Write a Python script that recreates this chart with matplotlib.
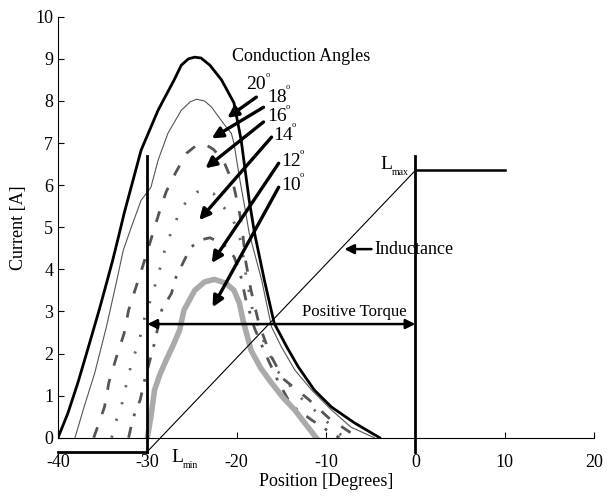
import matplotlib
matplotlib.use("Agg")
import matplotlib.pyplot as plt

plt.rcParams["font.family"] = ["Liberation Serif", "DejaVu Serif"]
plt.rcParams["axes.unicode_minus"] = False

# current curves for each conduction angle (position in degrees, current in A)
x20 = [-40, -38.9, -37.8, -36.7, -35.4, -34.6, -33.9, -33.2, -32.6, -30.7, -28.8, -27.0, -26.2, -25.4,
       -24.7, -24.0, -23.0, -21.7, -20.6, -20.3, -19.5, -19.1, -18.6, -18.0, -16.9, -15.8,
       -14.4, -13.1, -11.3, -9.4, -6.8, -4.0]
y20 = [0, 0.58, 1.29, 2.08, 3.03, 3.65, 4.2, 4.8, 5.33, 6.83, 7.78, 8.5, 8.85, 9.0,
       9.04, 9.02, 8.85, 8.5, 8.07, 7.95, 7.07, 6.43, 5.64, 4.86, 3.74, 2.72,
       2.16, 1.68, 1.13, 0.73, 0.35, 0]

x18 = [-38.1, -37.1, -35.9, -34.6, -33.5, -32.7, -31.8, -30.7, -29.6, -28.8, -27.7, -26.2,
       -25.2, -24.5, -23.6, -22.8, -21.5, -20.6, -20.3, -19.7, -19.1, -18.6, -17.2, -16.1,
       -15.0, -13.5, -11.6, -9.4, -7.2, -4.6]
y18 = [0, 0.72, 1.53, 2.62, 3.66, 4.45, 5.0, 5.64, 5.95, 6.59, 7.23, 7.78,
       7.98, 8.04, 8.0, 7.85, 7.47, 7.23, 6.99, 6.19, 5.48, 4.86, 3.74, 2.63,
       2.16, 1.61, 1.13, 0.66, 0.25, 0]

x16 = [-36.0, -35.7, -34.8, -34.3, -33.5, -32.6, -32.1, -30.3, -28.7, -27.9, -26.8, -25.6,
       -24.6, -23.7, -22.6, -21.5, -20.4, -19.8, -19.4, -19.0, -18.4, -17.5, -16.3, -14.8,
       -11.9, -9.7, -7.4, -6.5]
y16 = [0, 0.18, 0.73, 1.32, 1.89, 2.48, 3.03, 4.22, 5.33, 5.84, 6.31, 6.76,
       6.93, 6.99, 6.85, 6.59, 6.04, 5.48, 5.0, 4.2, 3.5, 2.7, 2.0, 1.4,
       0.9, 0.47, 0.14, 0]

x14 = [-34.0, -33.5, -32.9, -32.6, -32.1, -31.8, -31.2, -30.7, -30.3, -29.8, -28.8, -28.0,
       -27.3, -26.3, -25.5, -24.4, -23.5, -22.6, -21.7, -20.5, -19.8, -19.4, -19.0, -18.2,
       -17.0, -15.5, -13.1, -10.5, -8.0]
y14 = [0, 0.40, 0.73, 1.08, 1.44, 1.77, 2.12, 2.48, 2.86, 3.17, 3.85, 4.5,
       4.9, 5.4, 5.65, 5.84, 5.88, 5.8, 5.55, 5.2, 4.9, 4.5, 3.9, 3.0,
       2.3, 1.6, 1.0, 0.5, 0]

x12 = [-32.1, -31.6, -30.8, -30.3, -29.2, -28.4, -27.3, -26.8, -25.9, -25.1, -24.0, -23.0,
       -21.5, -20.3, -19.6, -19.0, -18.0, -16.8, -15.5, -13.9, -11.6, -9.4, -8.5]
y12 = [0, 0.47, 0.9, 1.37, 2.25, 3.03, 3.43, 3.81, 4.2, 4.53, 4.7, 4.75,
       4.6, 4.3, 3.9, 3.3, 2.6, 2.0, 1.4, 0.77, 0.42, 0.11, 0]

x10 = [-30.0, -29.6, -29.2, -28.6, -27.9, -27.0, -26.4, -25.9, -24.7, -23.6, -22.5, -21.2,
       -20.3, -19.7, -19.3, -18.4, -17.3, -16.1, -14.8, -13.5, -12.2, -11.1]
y10 = [0, 0.5, 1.13, 1.5, 1.84, 2.25, 2.55, 3.03, 3.5, 3.7, 3.76, 3.67,
       3.5, 3.2, 2.8, 2.08, 1.65, 1.3, 0.95, 0.66, 0.3, 0]

# inductance profile (Lmin -> rising -> Lmax)
ind_x = [-40, -30, 0, 10]
ind_y = [-0.33, -0.33, 6.35, 6.35]

# region markers
bound_x = [-30, 0]
bound_y = [-0.33, 6.7]
torque_y = 2.7

angle_labels = ["20", "18", "16", "14", "12", "10"]
label_pos = [(-18.9, 8.38), (-16.6, 8.09), (-16.6, 7.62), (-15.9, 7.19), (-15.0, 6.55), (-15.0, 6.0)]
arrow_tail = [(-17.8, 8.09), (-17.0, 7.85), (-17.0, 7.5), (-16.1, 7.14), (-15.3, 6.52), (-15.3, 5.95)]
arrow_head = [(-21.05, 7.6), (-22.8, 7.11), (-23.5, 6.4), (-24.2, 5.17), (-22.8, 4.15), (-22.7, 3.1)]

fig = plt.figure(figsize=(6.07, 4.97), dpi=100)
ax = fig.add_axes([0.0956, 0.1193, 0.883, 0.847])

ax.plot(x20, y20, color="black", lw=2.0)
ax.plot(x18, y18, color="#555555", lw=0.8)
ax.plot(x16, y16, color="#555555", lw=2.0, dashes=(4, 5))
ax.plot(x14, y14, color="#666666", lw=2.0, dashes=(0.8, 5.5))
ax.plot(x12, y12, color="#555555", lw=2.0, dashes=(4, 4, 1, 4))
ax.plot(x10, y10, color="#aaaaaa", lw=4.0)

# inductance
ax.plot(ind_x[:2], ind_y[:2], color="black", lw=2.0, clip_on=False)
ax.plot(ind_x[1:3], ind_y[1:3], color="black", lw=0.8, clip_on=False)
ax.plot(ind_x[2:], ind_y[2:], color="black", lw=1.8, clip_on=False)

for bx in bound_x:
    ax.plot([bx, bx], bound_y, color="black", lw=2.0, clip_on=False)

ax.annotate("", xy=(bound_x[0], torque_y), xytext=(bound_x[1], torque_y),
            arrowprops=dict(arrowstyle="<|-|>", lw=1.8, color="black", mutation_scale=14,
                            shrinkA=0, shrinkB=0))
ax.text(-6.8, 2.98, "Positive Torque", ha="center", va="center", fontsize=12)

ax.annotate("Inductance", xy=(-7.95, 4.48), xytext=(-4.6, 4.48), fontsize=13,
            va="center", ha="left",
            arrowprops=dict(arrowstyle="-|>", lw=1.8, color="black", mutation_scale=14,
                            shrinkA=0, shrinkB=0))

# L with small subscripts
ax.text(-3.9, 6.5, "L", ha="left", va="center", fontsize=14)
ax.text(-2.6, 6.3, "max", ha="left", va="center", fontsize=7)
ax.text(-27.3, -0.46, "L", ha="left", va="center", fontsize=14)
ax.text(-26.0, -0.66, "min", ha="left", va="center", fontsize=7)

ax.text(-12.8, 9.05, "Conduction Angles", ha="center", va="center", fontsize=13)
for lab, (lx, ly), t, h in zip(angle_labels, label_pos, arrow_tail, arrow_head):
    ax.text(lx, ly, lab, ha="left", va="center", fontsize=14)
    ax.annotate("o", xy=(lx, ly), xytext=(13.5, 7), textcoords="offset points",
                ha="left", va="center", fontsize=6)
    ax.annotate("", xy=h, xytext=t,
                arrowprops=dict(arrowstyle="-|>", lw=2.4, color="black", mutation_scale=16,
                                shrinkA=0, shrinkB=0))

ax.set_xlim(-40, 20)
ax.set_ylim(0, 10)
ax.set_xticks(range(-40, 21, 10))
ax.set_yticks(range(0, 11))
ax.spines["top"].set_visible(False)
ax.spines["right"].set_visible(False)
ax.tick_params(axis="both", direction="in", labelsize=13, length=4)
ax.tick_params(axis="x", pad=12)
ax.set_xlabel("Position [Degrees]", fontsize=13, labelpad=1)
ax.set_ylabel("Current [A]", fontsize=13, labelpad=6)

fig.savefig("out.png", dpi=100)
